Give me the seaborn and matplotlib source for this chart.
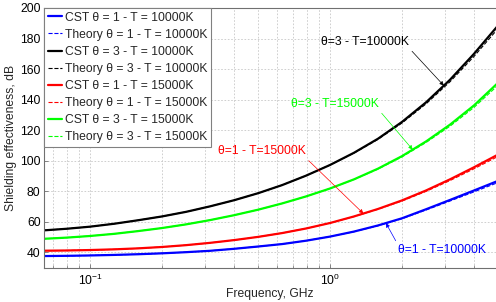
import numpy as np
import matplotlib
matplotlib.use("Agg")
import matplotlib.pyplot as plt
import seaborn as sns
from matplotlib.ticker import LogLocator, NullFormatter

# --- data (log-spaced frequencies) ---
freq_ghz = [0.0631, 0.0794, 0.1, 0.1259, 0.1585, 0.1995, 0.2512, 0.3162, 0.3981, 0.5012,
            0.631, 0.7943, 1.0, 1.2589, 1.5849, 1.9953, 2.5119, 3.1623, 3.9811, 5.0119]

cst_t1_10k = [37.55, 37.7, 37.95, 38.3, 38.75, 39.35, 40.1, 41.0, 42.3, 43.8,
              45.4, 47.6, 50.3, 53.6, 57.6, 62.3, 68.2, 74.3, 80.5, 86.8]
theory_t1_10k = [37.55, 37.7, 37.95, 38.3, 38.75, 39.35, 40.1, 41.0, 42.3, 43.8,
                 45.4, 47.6, 50.3, 53.5, 57.4, 62.0, 67.7, 73.6, 79.6, 85.7]

cst_t3_10k = [54.3, 55.4, 56.8, 58.7, 61.0, 63.5, 66.5, 70.1, 74.1, 78.7,
              84.0, 90.2, 97.2, 105.2, 114.4, 125.4, 138.2, 153.0, 170.0, 188.5]
theory_t3_10k = [54.3, 55.4, 56.8, 58.7, 61.0, 63.5, 66.5, 70.1, 74.1, 78.7,
                 84.0, 90.2, 97.2, 105.0, 114.0, 124.7, 137.2, 151.7, 168.3, 186.5]

cst_t1_15k = [41.05, 41.2, 41.5, 41.95, 42.6, 43.5, 44.7, 46.2, 48.0, 50.1,
              52.6, 55.6, 59.2, 63.5, 68.4, 74.0, 80.5, 87.8, 95.7, 104.0]
theory_t1_15k = [41.05, 41.2, 41.5, 41.95, 42.6, 43.5, 44.7, 46.2, 48.0, 50.1,
                 52.6, 55.6, 59.2, 63.4, 68.2, 73.6, 79.9, 87.0, 94.7, 102.8]

cst_t3_15k = [48.8, 49.6, 50.7, 52.1, 53.9, 55.9, 58.3, 61.1, 64.3, 67.9,
              72.0, 76.6, 81.8, 87.8, 94.8, 103.0, 112.6, 123.6, 136.2, 151.0]
theory_t3_15k = [48.8, 49.6, 50.7, 52.1, 53.9, 55.9, 58.3, 61.1, 64.3, 67.9,
                 72.0, 76.6, 81.8, 87.7, 94.5, 102.5, 111.9, 122.6, 134.9, 149.4]

y_ticks = [40, 60, 80, 100, 120, 140, 160, 180, 200]

BLUE, BLACK, RED, GREEN = "#0000ff", "#000000", "#ff0000", "#00ff00"
FS = 8.7

series = [
    ("CST \u03b8 = 1 - T = 10000K", cst_t1_10k, BLUE, "-"),
    ("Theory \u03b8 = 1 - T = 10000K", theory_t1_10k, BLUE, "--"),
    ("CST \u03b8 = 3 - T = 10000K", cst_t3_10k, BLACK, "-"),
    ("Theory \u03b8 = 3 - T = 10000K", theory_t3_10k, BLACK, "--"),
    ("CST \u03b8 = 1 - T = 15000K", cst_t1_15k, RED, "-"),
    ("Theory \u03b8 = 1 - T = 15000K", theory_t1_15k, RED, "--"),
    ("CST \u03b8 = 3 - T = 15000K", cst_t3_15k, GREEN, "-"),
    ("Theory \u03b8 = 3 - T = 15000K", theory_t3_15k, GREEN, "--"),
]

sns.set_style("ticks")
plt.rcParams["font.family"] = ["Liberation Sans", "DejaVu Sans"]
plt.rcParams["mathtext.default"] = "regular"

fig = plt.figure(figsize=(4.96, 3.02), dpi=100)
ax = fig.add_axes([44 / 496, 34.4 / 302, 1 - 44 / 496, 259.6 / 302])

for label, vals, color, ls in series:
    if ls == "-":
        sns.lineplot(x=freq_ghz, y=vals, ax=ax, color=color, lw=1.6, label=label)
    else:
        sns.lineplot(x=freq_ghz, y=vals, ax=ax, color=color, lw=0.8,
                     linestyle="--", dashes=(3, 2), label=label)

ax.set_xscale("log")
ax.set_xlim(10 ** (-1 - 46 / 240), 10 ** (406 / 240 - 1))
ax.set_ylim(30, 200)
ax.set_yticks(y_ticks)
ax.xaxis.set_minor_locator(LogLocator(base=10, subs=np.arange(2, 10)))
ax.xaxis.set_minor_formatter(NullFormatter())

ax.grid(True, which="major", color="#c8c8c8", linestyle=(0, (2, 2)), lw=0.6)
ax.grid(True, which="minor", axis="x", color="#c8c8c8", linestyle=(0, (2, 2)), lw=0.6)

for side in ["left", "bottom", "top"]:
    ax.spines[side].set_color("#707070")
    ax.spines[side].set_linewidth(0.8)
ax.spines["right"].set_visible(False)

ax.tick_params(axis="both", which="major", direction="in", length=3, width=0.6,
               color="#707070", labelsize=FS, labelcolor="black")
ax.tick_params(axis="x", which="major", pad=4)
ax.tick_params(axis="y", which="major", pad=2.5)
ax.tick_params(axis="x", which="minor", direction="in", length=2, width=0.5, color="#707070")

ax.set_xlabel("Frequency, GHz", fontsize=FS, labelpad=0)
ax.set_ylabel("Shielding effectiveness, dB", fontsize=FS, labelpad=2)

leg = ax.legend(loc="upper left", bbox_to_anchor=(0, 1), borderaxespad=0, fontsize=FS,
                frameon=True, fancybox=False, edgecolor="#808080", framealpha=1,
                handlelength=1.2, handletextpad=0.25, labelspacing=0.42, borderpad=0.3)
leg.get_frame().set_linewidth(0.8)


def label_curve(text, f_tip, vals, color, text_px, relpos):
    y_tip = np.interp(np.log10(f_tip), np.log10(freq_ghz), vals)
    ax.annotate(text, xy=(f_tip, y_tip), xytext=text_px, textcoords="figure pixels",
                ha="center", va="center", fontsize=FS, color=color,
                arrowprops=dict(arrowstyle="-|>", color=color, lw=0.5, shrinkA=0,
                                shrinkB=0, mutation_scale=6, relpos=relpos))


label_curve("\u03b8=3 - T=10000K", 2.98, cst_t3_10k, BLACK, (365, 260), (1, 0))
label_curve("\u03b8=3 - T=15000K", 2.21, cst_t3_15k, GREEN, (335, 198), (1, 0))
label_curve("\u03b8=1 - T=15000K", 1.377, cst_t1_15k, RED, (261.5, 150.5), (1, 0))
label_curve("\u03b8=1 - T=10000K", 1.71, cst_t1_10k, BLUE, (441.5, 52), (0, 1))

fig.savefig("out.png", dpi=100)
